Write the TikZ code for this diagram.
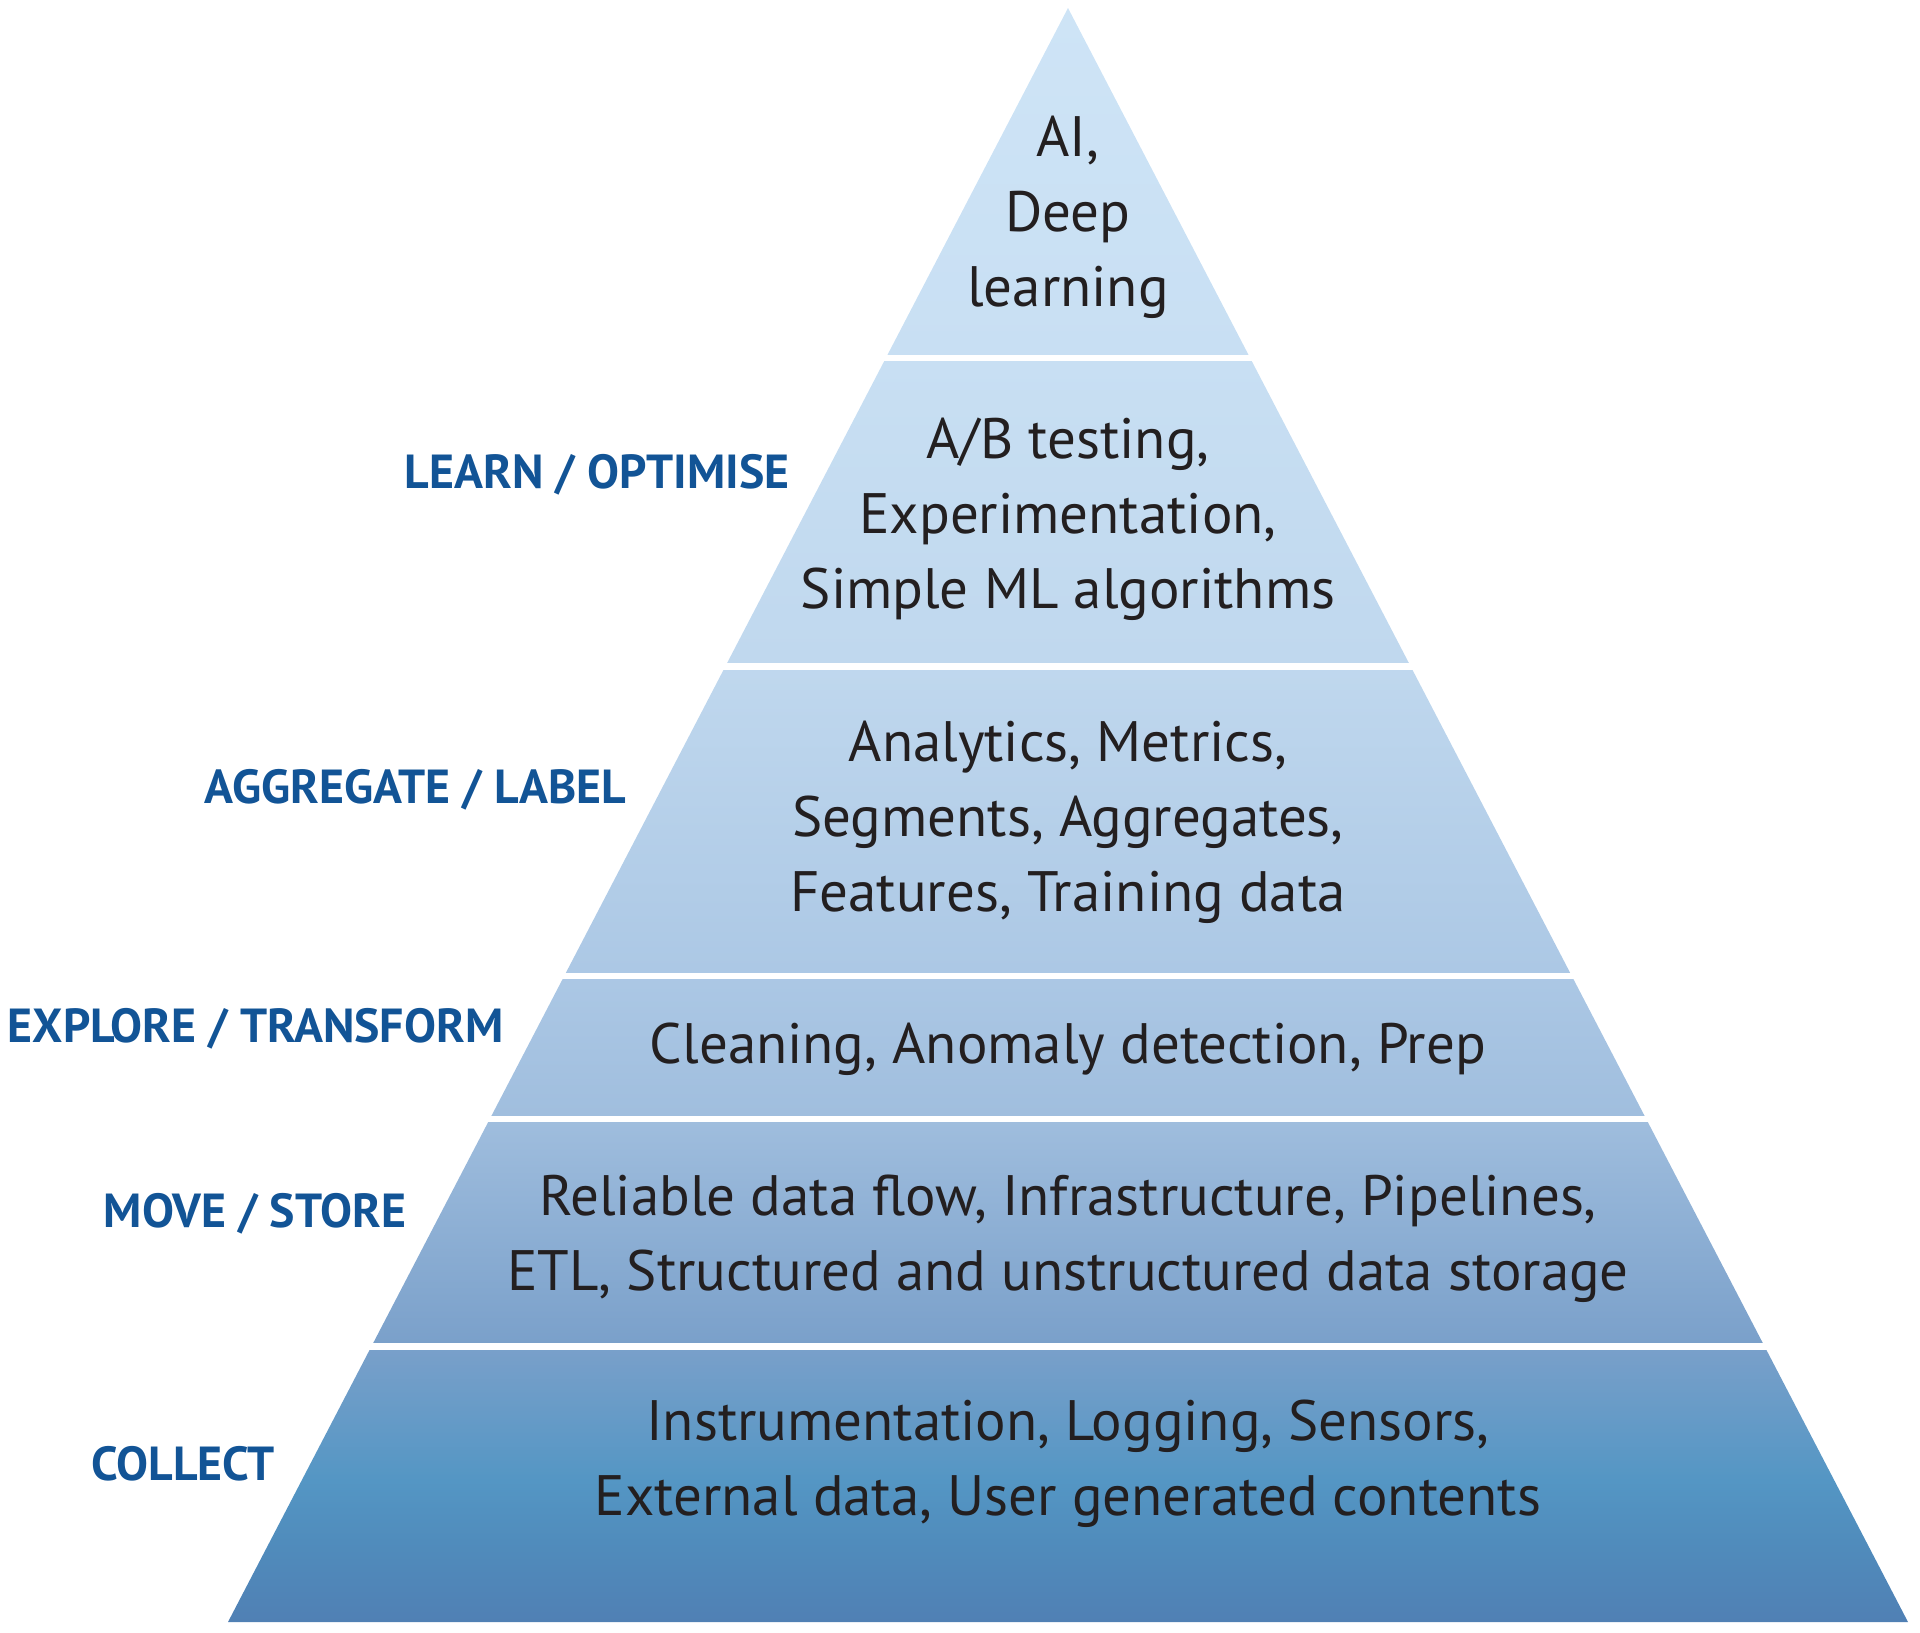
\documentclass[tikz,border=0pt]{standalone}
\usepackage{fontspec}
\setmainfont{PT Sans}
\usetikzlibrary{positioning}
\definecolor{inkdark}{RGB}{35,31,32}
\definecolor{labelblue}{RGB}{18,84,150}
\definecolor{pyrA}{RGB}{80,128,180}
\definecolor{pyrB}{RGB}{80,140,188}
\definecolor{pyrC}{RGB}{84,150,196}
\definecolor{pyrD}{RGB}{122,160,202}
\definecolor{pyrE}{RGB}{160,190,222}
\definecolor{pyrF}{RGB}{172,200,229}
\definecolor{pyrG}{RGB}{192,216,238}
\definecolor{pyrH}{RGB}{200,223,243}
\definecolor{pyrI}{RGB}{206,228,246}
\pgfdeclareverticalshading{pyramidfade}{100bp}{%
  color(0bp)=(pyrA); color(25bp)=(pyrA); color(27.5bp)=(pyrB);
  color(29.4bp)=(pyrC); color(33.6bp)=(pyrD); color(40.7bp)=(pyrE);
  color(45.2bp)=(pyrF); color(54.8bp)=(pyrG); color(64.1bp)=(pyrH);
  color(75bp)=(pyrI); color(100bp)=(pyrI)}
\tikzset{
  bandtext/.style={font=\fontsize{16.2}{21.3}\selectfont, text=inkdark,
                   align=center, inner sep=0pt},
  layerlabel/.style={font=\bfseries\fontsize{13.6}{16}\selectfont,
                     text=labelblue, anchor=east, inner sep=0pt},
  layergap/.style={draw=white, line width=0.065cm},
}

\begin{document}
\begin{tikzpicture}[x=0.01cm, y=-0.01cm]
  \useasboundingbox (0,0) rectangle (1920,1633);

  % Pyramid body, one fade from light top to dark base
  \path[shading=pyramidfade] (1068,8) coordinate (apex)
    -- (1908,1622) coordinate (base_right)
    -- (228,1622) coordinate (base_left) -- cycle;

  % White gaps between the layers
  \foreach \yy in {358, 666.5, 976, 1119, 1346.5}
    \draw[layergap] (200,\yy) -- (1920,\yy);

  % Layer contents, top to bottom
  \node[bandtext] (deep_learn) at (1068,217) {AI,\\Deep\\learning};
  \node[bandtext] (ab_testing) at (1068,519) {A/B testing,\\Experimentation,\\Simple ML algorithms};
  \node[bandtext] (analytics) at (1068,822) {Analytics, Metrics,\\Segments, Aggregates,\\Features, Training data};
  \node[bandtext] (cleaning) at (1068,1049) {Cleaning, Anomaly detection, Prep};
  \node[bandtext] (data_flow) at (1068,1239) {Reliable data flow, Infrastructure, Pipelines,\\ETL, Structured and unstructured data storage};
  \node[bandtext] (instrument) at (1068,1464) {Instrumentation, Logging, Sensors,\\External data, User generated contents};

  % Layer names on the left
  \node[layerlabel] (learn_lbl) at (790,475) {LEARN / OPTIMISE};
  \node[layerlabel] (aggregate_lbl) at (627,790) {AGGREGATE / LABEL};
  \node[layerlabel] (explore_lbl) at (504,1029) {EXPLORE / TRANSFORM};
  \node[layerlabel] (move_lbl) at (407,1214) {MOVE / STORE};
  \node[layerlabel] (collect_lbl) at (275,1464) {COLLECT};
\end{tikzpicture}
\end{document}
